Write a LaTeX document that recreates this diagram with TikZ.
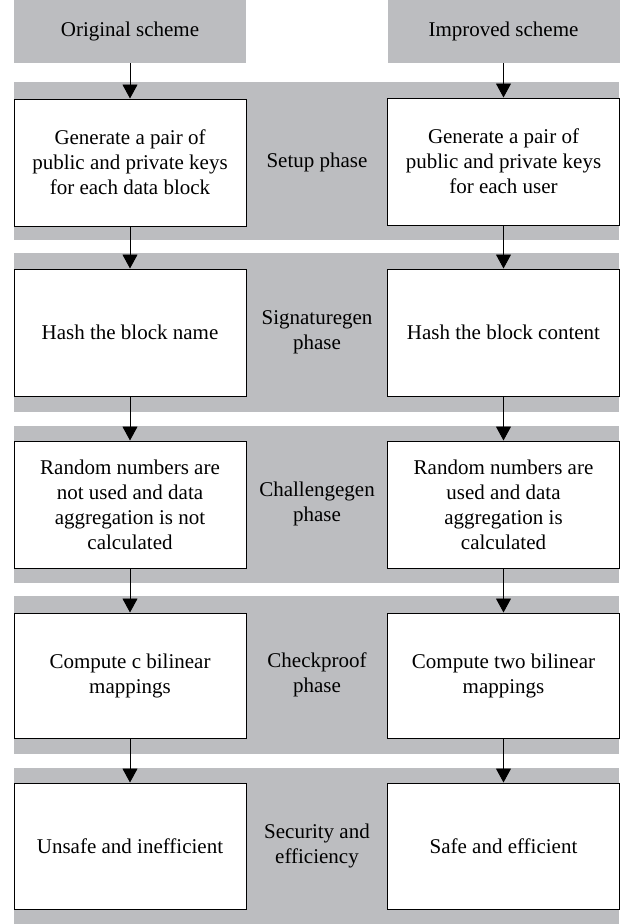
\documentclass[tikz,border=0pt]{standalone}
\usepackage{fontspec}
\setmainfont{Liberation Serif}
\usetikzlibrary{arrows.meta}
\definecolor{bandgray}{RGB}{188,189,192}
\begin{document}
\begin{tikzpicture}[x=1pt,y=-1pt,
  every node/.style={font=\fontsize{21}{25}\selectfont, align=center, inner sep=0pt},
  band/.style={fill=bandgray},
  header/.style={fill=bandgray, minimum width=232pt, minimum height=63pt},
  proc/.style={draw=black, fill=white, line width=1pt, minimum width=232pt, minimum height=127pt},
  flow/.style={line width=0.9pt, -{Triangle[length=14pt,width=15pt]}},
  phase/.style={}
]
\useasboundingbox (0,0) rectangle (632,924);
\fill[white] (0,0) rectangle (632,924);
% bands
\fill[band] (14,82) rectangle (619,240);
\fill[band] (14,253) rectangle (619,412);
\fill[band] (14,426) rectangle (619,583);
\fill[band] (14,596) rectangle (619,754);
\fill[band] (14,768) rectangle (619,924);
% headers
\node[header] (hl) at (130,31.5) {Original scheme};
\node[header] (hr) at (503.5,31.5) {Improved scheme};
% boxes left
\node[proc] (l1) at (130,162.5) {Generate a pair of\\public and private keys\\for each data block};
\node[proc] (l2) at (130,332.5) {Hash the block name};
\node[proc] (l3) at (130,504.5) {Random numbers are\\not used and data\\aggregation is not\\calculated};
\node[proc, minimum height=125pt] (l4) at (130,675.5) {Compute c bilinear\\mappings};
\node[proc, minimum height=126pt] (l5) at (130,846) {Unsafe and inefficient};
% boxes right
\node[proc] (r1) at (503.5,161.5) {Generate a pair of\\public and private keys\\for each user};
\node[proc] (r2) at (503.5,332.5) {Hash the block content};
\node[proc] (r3) at (503.5,504.5) {Random numbers are\\used and data\\aggregation is\\calculated};
\node[proc, minimum height=125pt] (r4) at (503.5,675.5) {Compute two bilinear\\mappings};
\node[proc, minimum height=126pt] (r5) at (503.5,846) {Safe and efficient};
% phase labels
\node[phase] (p1) at (317,162) {Setup phase};
\node[phase] (p2) at (317,332) {Signaturegen\\phase};
\node[phase] (p3) at (317,504) {Challengegen\\phase};
\node[phase] (p4) at (317,675) {Checkproof\\phase};
\node[phase] (p5) at (317,846) {Security and\\efficiency};
% arrows
\draw[flow] (hl.south) -- (l1.north);
\draw[flow] (l1.south) -- (l2.north);
\draw[flow] (l2.south) -- (l3.north);
\draw[flow] (l3.south) -- (l4.north);
\draw[flow] (l4.south) -- (l5.north);
\draw[flow] (hr.south) -- (r1.north);
\draw[flow] (r1.south) -- (r2.north);
\draw[flow] (r2.south) -- (r3.north);
\draw[flow] (r3.south) -- (r4.north);
\draw[flow] (r4.south) -- (r5.north);
\end{tikzpicture}
\end{document}
